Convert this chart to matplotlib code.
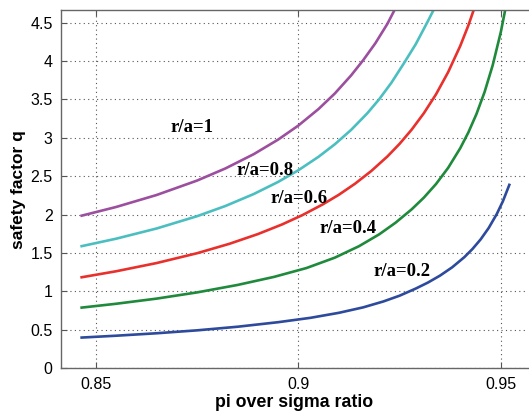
import matplotlib
matplotlib.use("Agg")
import matplotlib.pyplot as plt

# values
x_purple = [0.8465, 0.855, 0.865, 0.875, 0.882, 0.889, 0.895, 0.900, 0.905, 0.909,
            0.913, 0.916, 0.919, 0.922, 0.9243]
q_purple = [1.987, 2.100, 2.256, 2.444, 2.602, 2.788, 2.977, 3.160, 3.376, 3.577,
            3.811, 4.010, 4.230, 4.485, 4.72]

x_cyan = [0.8465, 0.855, 0.865, 0.875, 0.882, 0.889, 0.895, 0.900, 0.905, 0.909,
          0.913, 0.917, 0.920, 0.923, 0.926, 0.929, 0.932, 0.9345]
q_cyan = [1.59, 1.687, 1.820, 1.980, 2.113, 2.269, 2.426, 2.578, 2.754, 2.916,
          3.102, 3.318, 3.505, 3.719, 3.965, 4.22, 4.52, 4.78]

x_red = [0.8465, 0.855, 0.865, 0.875, 0.883, 0.890, 0.896, 0.901, 0.906, 0.910,
         0.914, 0.918, 0.922, 0.925, 0.928, 0.931, 0.934, 0.937, 0.940, 0.942, 0.944]
q_red = [1.185, 1.263, 1.370, 1.498, 1.621, 1.747, 1.873, 1.994, 2.133, 2.259,
         2.403, 2.568, 2.758, 2.922, 3.108, 3.321, 3.567, 3.856, 4.199, 4.466, 4.771]

x_green = [0.8465, 0.855, 0.865, 0.875, 0.885, 0.894, 0.902, 0.909, 0.915, 0.920,
           0.924, 0.928, 0.931, 0.934, 0.937, 0.940, 0.942, 0.944, 0.946, 0.948,
           0.950, 0.9515]
q_green = [0.79, 0.840, 0.907, 0.988, 1.085, 1.190, 1.305, 1.440, 1.590, 1.745,
           1.895, 2.070, 2.222, 2.399, 2.610, 2.867, 3.072, 3.312, 3.598, 3.946,
           4.377, 4.776]

x_blue = [0.8465, 0.855, 0.865, 0.875, 0.885, 0.895, 0.903, 0.910, 0.916, 0.921,
          0.925, 0.929, 0.932, 0.935, 0.938, 0.941, 0.943, 0.945, 0.947, 0.949,
          0.9505, 0.9521]
q_blue = [0.40, 0.424, 0.456, 0.494, 0.541, 0.600, 0.657, 0.722, 0.793, 0.870,
          0.945, 1.038, 1.116, 1.207, 1.315, 1.447, 1.553, 1.677, 1.826, 2.008,
          2.173, 2.388]

labels = ["r/a=1", "r/a=0.8", "r/a=0.6", "r/a=0.4", "r/a=0.2"]
label_x = [0.8738, 0.8918, 0.9003, 0.9123, 0.9256]
label_q = [3.14, 2.58, 2.21, 1.82, 1.26]

xticks = [0.85, 0.9, 0.95]
xticklabels = ["0.85", "0.9", "0.95"]
yticks = [0, 0.5, 1, 1.5, 2, 2.5, 3, 3.5, 4, 4.5]
yticklabels = ["0", "0.5", "1", "1.5", "2", "2.5", "3", "3.5", "4", "4.5"]

colors = ["#9c4f9e", "#4bbfc0", "#e8302c", "#1f8a3b", "#2d4a9c"]

fig = plt.figure(figsize=(5.29, 4.16), dpi=100)
ax = fig.add_axes([0.1153, 0.1147, 0.8827, 0.8613])

series = [(x_purple, q_purple), (x_cyan, q_cyan), (x_red, q_red),
          (x_green, q_green), (x_blue, q_blue)]
for (xs, qs), c in zip(series, colors):
    ax.plot(xs, qs, color=c, lw=1.9, solid_joinstyle="round")

for t, tx, tq in zip(labels, label_x, label_q):
    ax.text(tx, tq, t, ha="center", va="center", fontsize=13.5,
            fontweight="bold", family="Liberation Serif")

ax.set_xlim(0.8414, 0.9567)
ax.set_ylim(0, 4.665)
ax.set_xticks(xticks)
ax.set_xticklabels(xticklabels)
ax.set_yticks(yticks)
ax.set_yticklabels(yticklabels)
ax.grid(True, linestyle=(0, (1, 3)), color="#555555", lw=0.8)

for lab in ax.get_xticklabels() + ax.get_yticklabels():
    lab.set_family("Liberation Sans")
    lab.set_fontsize(11.5)
ax.tick_params(direction="in", length=4, color="#555555", pad=6, top=True)

ax.set_xlabel("pi over sigma ratio", fontsize=12.8, fontweight="bold",
              family="Liberation Sans", labelpad=2)
ax.set_ylabel("safety factor q", fontsize=12.5, fontweight="bold",
              family="Liberation Sans", labelpad=3)

for s in ["top", "bottom", "left"]:
    ax.spines[s].set_color("#666666")
    ax.spines[s].set_linewidth(1.0)
ax.spines["right"].set_visible(False)

fig.savefig("out.png", dpi=100)
